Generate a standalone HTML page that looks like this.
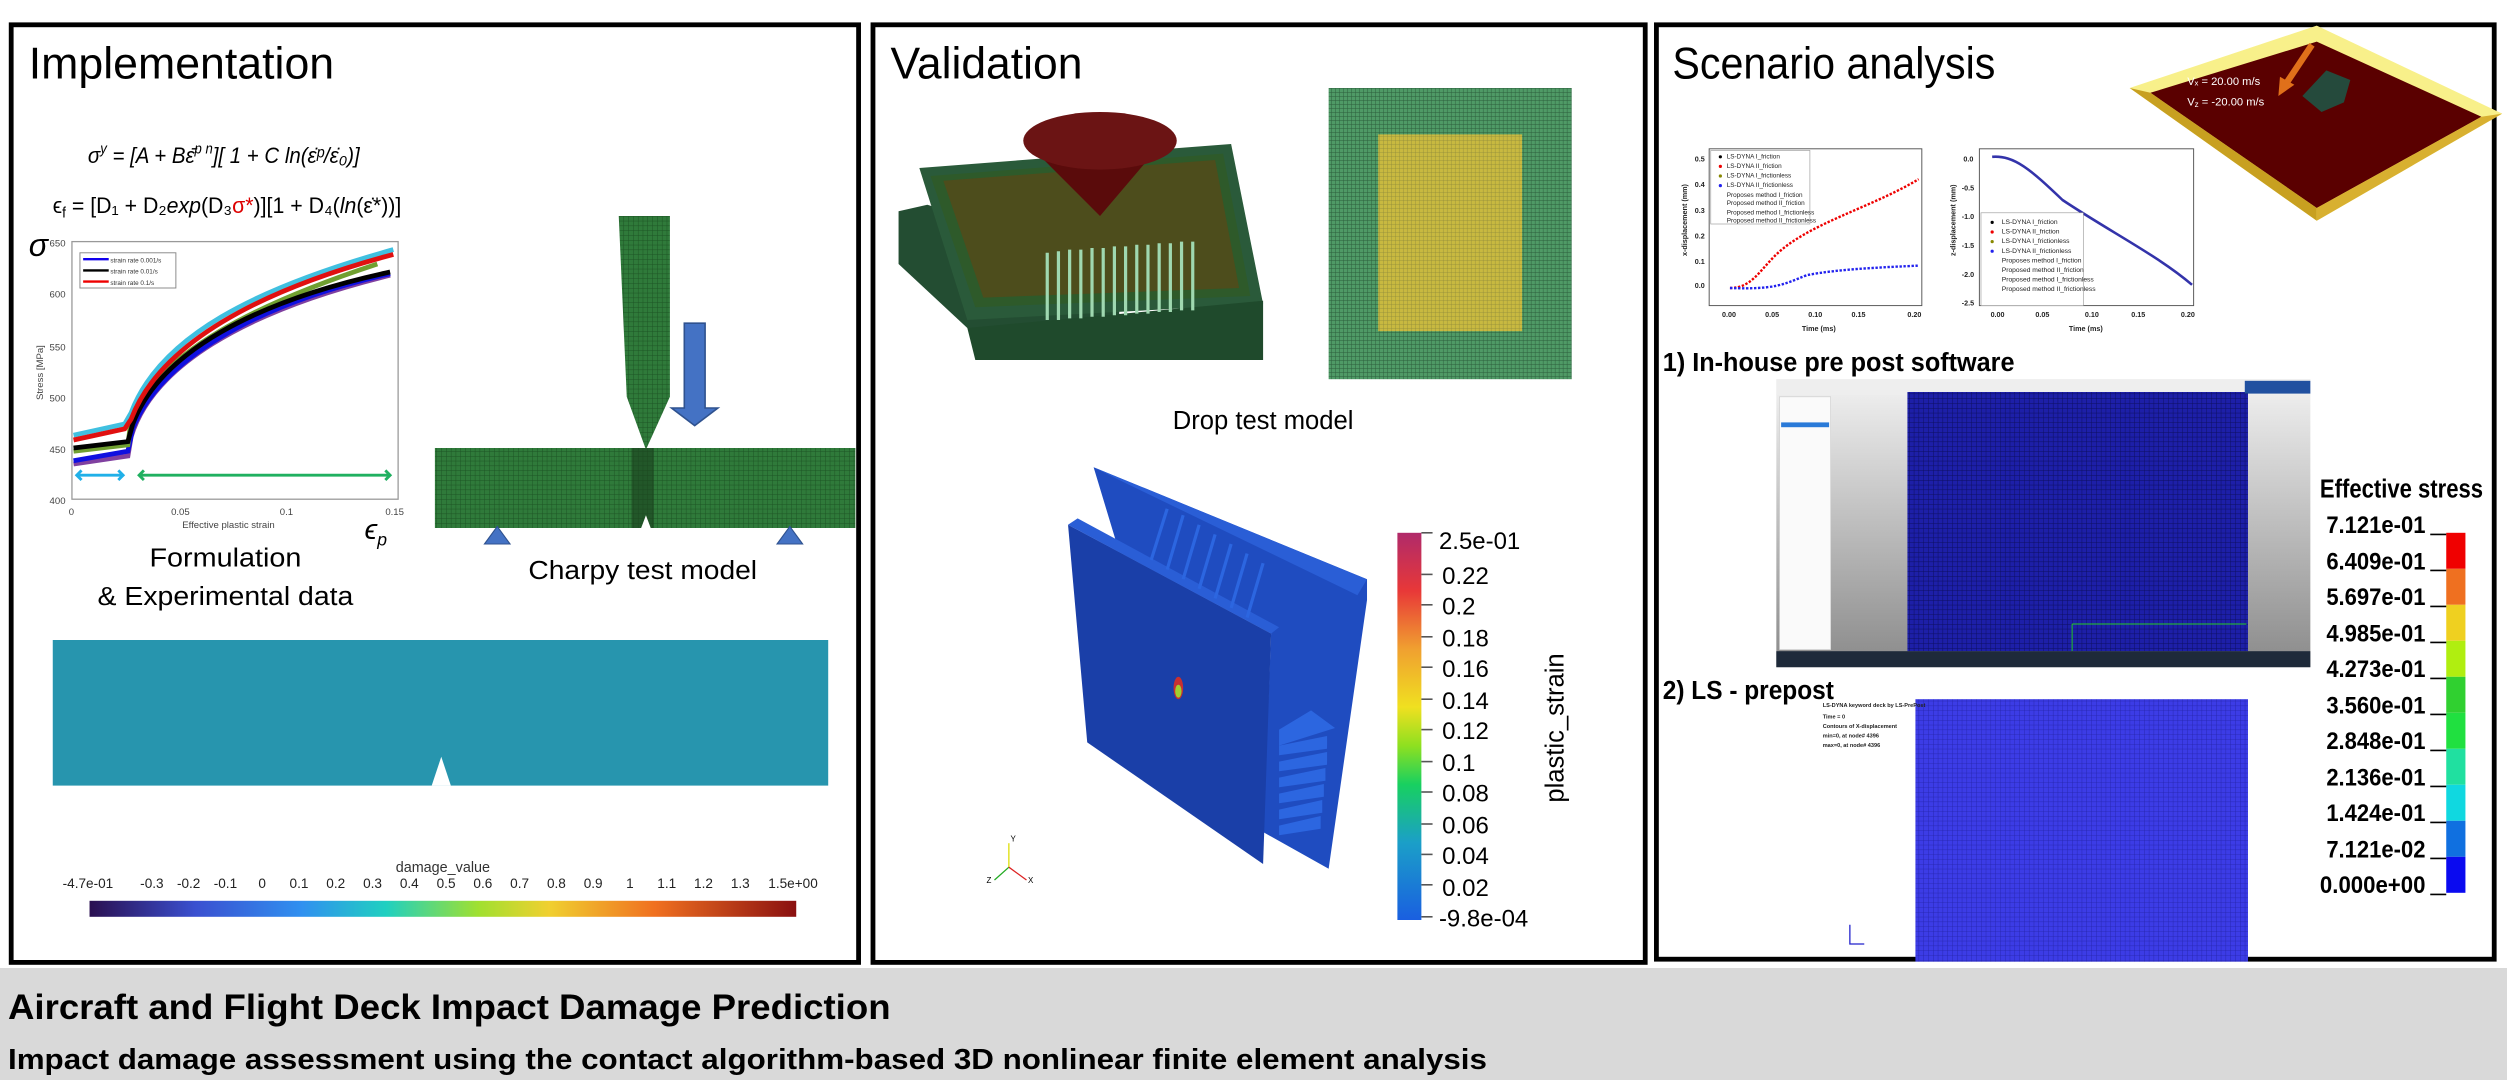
<!DOCTYPE html>
<html><head><meta charset="utf-8"><style>
html,body{margin:0;padding:0;background:#fff;width:2507px;height:1080px;overflow:hidden}
svg{display:block}
text{font-family:"Liberation Sans",sans-serif}
.nar{font-family:"Liberation Sans Narrow","Liberation Sans",sans-serif}
</style></head><body>
<svg width="2507" height="1080" viewBox="0 0 1568 675" preserveAspectRatio="none" xmlns="http://www.w3.org/2000/svg">
<defs>
<pattern id="gmesh" width="3" height="3" patternUnits="userSpaceOnUse"><rect width="3" height="3" fill="#2f7a3a"/><path d="M0 0H3M0 0V3" stroke="#1d5424" stroke-width="0.6"/></pattern>
<pattern id="gmesh2" width="2.5" height="2.5" patternUnits="userSpaceOnUse"><rect width="2.5" height="2.5" fill="#4f9a66"/><path d="M0 0H2.5M0 0V2.5" stroke="#2c5e3c" stroke-width="0.6"/></pattern>
<pattern id="ymesh" width="2.5" height="2.5" patternUnits="userSpaceOnUse"><rect width="2.5" height="2.5" fill="#c8b940"/><path d="M0 0H2.5M0 0V2.5" stroke="#8f8a3a" stroke-width="0.5"/></pattern>
<pattern id="bmesh" width="3" height="3" patternUnits="userSpaceOnUse"><rect width="3" height="3" fill="#1d1fa8"/><path d="M0 0H3M0 0V3" stroke="#0d0f60" stroke-width="0.6"/></pattern>
<pattern id="lmesh" width="3" height="3" patternUnits="userSpaceOnUse"><rect width="3" height="3" fill="#3c3ce6"/><path d="M0 0H3M0 0V3" stroke="#2424a8" stroke-width="0.5"/></pattern>
<linearGradient id="ps" x1="0" y1="1" x2="0" y2="0">
<stop offset="0" stop-color="#1a5fe0"/><stop offset="0.2" stop-color="#1b9fc8"/><stop offset="0.35" stop-color="#18d060"/><stop offset="0.45" stop-color="#8ee020"/><stop offset="0.55" stop-color="#f0e020"/><stop offset="0.7" stop-color="#f0a030"/><stop offset="0.85" stop-color="#e83838"/><stop offset="1" stop-color="#b02a6a"/></linearGradient>
<linearGradient id="dv" x1="0" y1="0" x2="1" y2="0">
<stop offset="0" stop-color="#2a0f50"/><stop offset="0.15" stop-color="#3a50d0"/><stop offset="0.3" stop-color="#3090f0"/><stop offset="0.42" stop-color="#20d0c0"/><stop offset="0.55" stop-color="#a0e030"/><stop offset="0.65" stop-color="#f0d030"/><stop offset="0.8" stop-color="#f07020"/><stop offset="1" stop-color="#8a1010"/></linearGradient>
<linearGradient id="gry" x1="0" y1="0" x2="0" y2="1"><stop offset="0" stop-color="#f2f2f2"/><stop offset="1" stop-color="#8a8a8a"/></linearGradient>
</defs>

<rect x="7" y="15.5" width="530" height="586" fill="none" stroke="#000" stroke-width="3"/>
<rect x="546" y="15.5" width="483" height="586" fill="none" stroke="#000" stroke-width="3"/>
<rect x="1036" y="15.5" width="524" height="584" fill="none" stroke="#000" stroke-width="3"/>

<rect x="0" y="605" width="1568" height="70" fill="#d9d9d9"/>
<text x="5" y="637" font-size="22" font-weight="bold" textLength="552" lengthAdjust="spacingAndGlyphs">Aircraft and Flight Deck Impact Damage Prediction</text>
<text x="5" y="668" font-size="18" font-weight="bold" textLength="925" lengthAdjust="spacingAndGlyphs">Impact damage assessment using the contact algorithm-based 3D nonlinear finite element analysis</text>

<!-- Panel 1 -->
<text x="18" y="49" font-size="28" textLength="191" lengthAdjust="spacingAndGlyphs">Implementation</text>
<text x="55" y="102" font-size="14" font-family="Liberation Serif" font-style="italic" textLength="170" lengthAdjust="spacingAndGlyphs">σ<tspan font-size="9" dy="-6">y</tspan><tspan dy="6"> = [A + Bε̄</tspan><tspan font-size="9" dy="-6">p n</tspan><tspan dy="6">][ 1 + C ln(ε̇ᵖ/ε̇₀)]</tspan></text>
<text x="33" y="133" font-size="14" font-family="Liberation Serif" textLength="218" lengthAdjust="spacingAndGlyphs">ϵ<tspan font-size="9" dy="3">f</tspan><tspan dy="-3"> = [D₁ + D₂</tspan><tspan font-style="italic">exp</tspan>(D₃<tspan fill="#d00">σ*</tspan>)][1 + D₄(<tspan font-style="italic">ln</tspan>(ε̇*))]</text>
<text x="18" y="160" font-size="20" font-family="Liberation Serif" font-style="italic">σ</text>
<rect x="45" y="151" width="204" height="161" fill="#fff" stroke="#999" stroke-width="0.8"/>
<g font-size="6" fill="#444">
<text x="31" y="154">650</text><text x="31" y="186">600</text><text x="31" y="219">550</text><text x="31" y="251">500</text><text x="31" y="283">450</text><text x="31" y="315">400</text>
<text x="43" y="322">0</text><text x="107" y="322">0.05</text><text x="175" y="322">0.1</text><text x="241" y="322">0.15</text>
<text x="114" y="330">Effective plastic strain</text>
<text transform="translate(27,250) rotate(-90)">Stress [MPa]</text></g>
<text x="228" y="337" font-size="18" font-family="Liberation Serif" font-style="italic">ϵ<tspan font-size="11" dy="4">p</tspan></text>
<g fill="none" stroke-width="3">
<path d="M46 290 L80 285 L82 273 C95 230 150 195 244 172" stroke="#8040a0"/>
<path d="M46 288 L80 282 L83 268 C100 225 160 190 244 171" stroke="#1010e0"/>
<path d="M46 282 L80 278 L82 262 C100 220 160 190 236 165" stroke="#70a030"/>
<path d="M46 280 L80 276 L83 265 C100 220 160 188 244 170" stroke="#000"/>
<path d="M46 272 L78 265 L82 258 C100 210 160 180 246 156" stroke="#40c0e0"/>
<path d="M46 275 L78 268 L82 262 C100 215 160 182 246 159" stroke="#e01010"/>
</g>
<rect x="50" y="158" width="60" height="22" fill="#fff" stroke="#888" stroke-width="0.6"/>
<g font-size="4" fill="#333"><line x1="52" y1="162" x2="68" y2="162" stroke="#10e" stroke-width="1.5"/><text x="69" y="164">strain rate 0.001/s</text>
<line x1="52" y1="169" x2="68" y2="169" stroke="#000" stroke-width="1.5"/><text x="69" y="171">strain rate 0.01/s</text>
<line x1="52" y1="176" x2="68" y2="176" stroke="#e00" stroke-width="1.5"/><text x="69" y="178">strain rate 0.1/s</text></g>
<g stroke-width="1.8" fill="none">
<path d="M48 297 H77 M51 294 L48 297 L51 300 M74 294 L77 297 L74 300" stroke="#20b0e8"/>
<path d="M87 297 H244 M90 294 L87 297 L90 300 M241 294 L244 297 L241 300" stroke="#20b060"/></g>
<polygon points="387,135 419,135 419,248 404,281 392,248" fill="url(#gmesh)"/>
<path d="M428 202 H441 V255 H449 L434.5 266 L420 255 H428 Z" fill="#4472c4" stroke="#2f528f" stroke-width="1"/>
<rect x="272" y="280" width="263" height="50" fill="url(#gmesh)"/>
<rect x="395" y="280" width="14" height="50" fill="#1b3f1e" opacity="0.6"/>
<polygon points="401,330 404,322 407,330" fill="#fff"/>
<polygon points="303,340 311,329 319,340" fill="#4472c4" stroke="#2f528f" stroke-width="0.7"/>
<polygon points="486,340 494,329 502,340" fill="#4472c4" stroke="#2f528f" stroke-width="0.7"/>
<text x="141" y="354" font-size="16" text-anchor="middle" textLength="95" lengthAdjust="spacingAndGlyphs">Formulation</text>
<text x="141" y="378" font-size="16" text-anchor="middle" textLength="160" lengthAdjust="spacingAndGlyphs">&amp; Experimental data</text>
<text x="402" y="362" font-size="16" text-anchor="middle" textLength="143" lengthAdjust="spacingAndGlyphs">Charpy test model</text>
<rect x="33" y="400" width="485" height="91" fill="#2795ae"/>
<polygon points="270,491 276,473 282,491" fill="#fff"/>
<text x="277" y="545" font-size="9" text-anchor="middle" fill="#333">damage_value</text>
<g font-size="8.5" fill="#222" text-anchor="middle">
<text x="55" y="555">-4.7e-01</text><text x="95" y="555">-0.3</text><text x="118" y="555">-0.2</text><text x="141" y="555">-0.1</text><text x="164" y="555">0</text><text x="187" y="555">0.1</text><text x="210" y="555">0.2</text><text x="233" y="555">0.3</text><text x="256" y="555">0.4</text><text x="279" y="555">0.5</text><text x="302" y="555">0.6</text><text x="325" y="555">0.7</text><text x="348" y="555">0.8</text><text x="371" y="555">0.9</text><text x="394" y="555">1</text><text x="417" y="555">1.1</text><text x="440" y="555">1.2</text><text x="463" y="555">1.3</text><text x="496" y="555">1.5e+00</text></g>
<rect x="56" y="563" width="442" height="10" fill="url(#dv)"/>

<!-- Panel 2 -->
<text x="557" y="49" font-size="28" textLength="120" lengthAdjust="spacingAndGlyphs">Validation</text>
<polygon points="562,132 580,128 700,165 700,225 605,205 562,165" fill="#234d32"/>
<polygon points="575,105 770,90 790,190 605,200" fill="#2a5a3a"/>
<polygon points="582,110 765,96 782,185 610,192" fill="#2e5a2a"/>
<polygon points="590,113 760,100 775,180 615,186" fill="#4d4d1c"/>
<polygon points="605,205 790,188 790,225 610,225" fill="#1f4a2c"/>
<g stroke="#9fd8b0" stroke-width="2">
<line x1="655" y1="158" x2="655" y2="200"/><line x1="662" y1="157" x2="662" y2="200"/><line x1="669" y1="156" x2="669" y2="199"/><line x1="676" y1="156" x2="676" y2="199"/><line x1="683" y1="155" x2="683" y2="198"/><line x1="690" y1="155" x2="690" y2="198"/><line x1="697" y1="154" x2="697" y2="197"/><line x1="704" y1="154" x2="704" y2="197"/><line x1="711" y1="153" x2="711" y2="196"/><line x1="718" y1="153" x2="718" y2="196"/><line x1="725" y1="152" x2="725" y2="195"/><line x1="732" y1="152" x2="732" y2="195"/><line x1="739" y1="151" x2="739" y2="194"/><line x1="746" y1="151" x2="746" y2="194"/></g>
<polygon points="641,88 728,88 688,135" fill="#5a0b0b"/>
<ellipse cx="688" cy="88" rx="48" ry="18" fill="#6b1414"/>
<rect x="831" y="55" width="152" height="182" fill="url(#gmesh2)"/>
<rect x="862" y="84" width="90" height="123" fill="url(#ymesh)"/>
<text x="790" y="268" font-size="16" text-anchor="middle" textLength="113" lengthAdjust="spacingAndGlyphs">Drop test model</text>
<polygon points="684,292 855,362 855,375 831,543 790,520 795,396 700,345" fill="#1f4cc0"/>
<polygon points="684,292 855,362 849,372 700,300" fill="#2a5ed6"/>
<polygon points="668,328 700,345 795,396 790,540 680,464" fill="#1a3fa8"/>
<polygon points="668,328 674,324 800,392 795,396" fill="#2a5ed6"/>
<g fill="#2c66e0">
<polygon points="800,456 820,444 835,455 800,466"/><polygon points="800,466 830,460 830,468 800,472"/>
<polygon points="800,476 830,470 830,478 800,482"/><polygon points="800,486 829,480 829,488 800,492"/><polygon points="800,496 828,490 828,498 800,502"/><polygon points="800,506 827,500 827,508 800,512"/><polygon points="800,516 826,510 826,518 800,522"/></g>
<g stroke="#2c66e0" stroke-width="2" fill="none"><path d="M720 350 L730 318"/><path d="M730 356 L740 322"/><path d="M740 362 L750 328"/><path d="M750 368 L760 334"/><path d="M760 374 L770 340"/><path d="M770 380 L780 346"/><path d="M780 386 L790 352"/></g>
<ellipse cx="737" cy="430" rx="3" ry="7" fill="#c83030"/><ellipse cx="737" cy="432" rx="2" ry="4" fill="#a0d030"/>
<g stroke-width="0.8"><line x1="631" y1="542" x2="631" y2="527" stroke="#dd0"/><line x1="631" y1="542" x2="622" y2="550" stroke="#2a2"/><line x1="631" y1="542" x2="642" y2="550" stroke="#d22"/></g>
<g font-size="5"><text x="632" y="526">Y</text><text x="617" y="552">Z</text><text x="643" y="552">X</text></g>
<rect x="874" y="333" width="15" height="242" fill="url(#ps)"/>
<g font-size="15" fill="#000" class="nar">
<text x="900" y="343">2.5e-01</text><text x="902" y="365">0.22</text><text x="902" y="384">0.2</text><text x="902" y="404">0.18</text><text x="902" y="423">0.16</text><text x="902" y="443">0.14</text><text x="902" y="462">0.12</text><text x="902" y="482">0.1</text><text x="902" y="501">0.08</text><text x="902" y="521">0.06</text><text x="902" y="540">0.04</text><text x="902" y="560">0.02</text><text x="900" y="579">-9.8e-04</text></g>
<g stroke="#555" stroke-width="1"><line x1="889" y1="359" x2="896" y2="359"/><line x1="889" y1="378" x2="896" y2="378"/><line x1="889" y1="398" x2="896" y2="398"/><line x1="889" y1="417" x2="896" y2="417"/><line x1="889" y1="437" x2="896" y2="437"/><line x1="889" y1="456" x2="896" y2="456"/><line x1="889" y1="476" x2="896" y2="476"/><line x1="889" y1="495" x2="896" y2="495"/><line x1="889" y1="515" x2="896" y2="515"/><line x1="889" y1="534" x2="896" y2="534"/><line x1="889" y1="553" x2="896" y2="553"/><line x1="889" y1="333" x2="896" y2="333"/><line x1="889" y1="573" x2="896" y2="573"/></g>
<text transform="translate(978,455) rotate(-90)" font-size="16" text-anchor="middle">plastic_strain</text>

<!-- Panel 3 -->
<text x="1046" y="49" font-size="28" textLength="202" lengthAdjust="spacingAndGlyphs">Scenario analysis</text>
<polygon points="1449,16 1565,71 1449,138 1332,55" fill="#f8f08a"/>
<polygon points="1449,26 1552,73 1449,130 1345,58" fill="#5a0000"/>
<polygon points="1332,55 1345,58 1449,130 1449,138" fill="#c8a020"/>
<polygon points="1449,138 1565,71 1552,73 1449,130" fill="#d8b030"/>
<path d="M1446 28 L1430 52" stroke="#e0701a" stroke-width="4"/><polygon points="1425,60 1426,48 1435,53" fill="#e0701a"/>
<polygon points="1440,60 1455,44 1470,50 1466,64 1452,70" fill="#254a3c"/>
<text x="1368" y="53" font-size="7" fill="#fff">Vₓ = 20.00 m/s</text>
<text x="1368" y="66" font-size="7" fill="#fff">V<tspan font-size="5" dy="1">z</tspan><tspan dy="-1"> = -20.00 m/s</tspan></text>
<!-- chart 1 -->
<rect x="1069" y="93" width="133" height="98" fill="#fff" stroke="#555" stroke-width="0.6"/>
<g font-size="4.5" font-weight="bold" fill="#222">
<text x="1060" y="101">0.5</text><text x="1060" y="117">0.4</text><text x="1060" y="133">0.3</text><text x="1060" y="149">0.2</text><text x="1060" y="165">0.1</text><text x="1060" y="180">0.0</text>
<text x="1077" y="198">0.00</text><text x="1104" y="198">0.05</text><text x="1131" y="198">0.10</text><text x="1158" y="198">0.15</text><text x="1193" y="198">0.20</text>
<text x="1127" y="207">Time (ms)</text>
<text transform="translate(1055,160) rotate(-90)">x-displacement (mm)</text></g>
<path d="M1082 180 C1095 180 1100 170 1110 160 C1130 140 1170 130 1200 112" fill="none" stroke="#e00" stroke-width="1.5" stroke-dasharray="1.5 1"/>
<path d="M1082 180 C1110 181 1115 178 1130 172 C1150 168 1180 167 1200 166" fill="none" stroke="#22e" stroke-width="1.5" stroke-dasharray="1.5 1"/>
<rect x="1070" y="94" width="62" height="46" fill="#fff" stroke="#999" stroke-width="0.4"/>
<g font-size="4" fill="#222">
<text x="1080" y="99">LS-DYNA I_friction</text><text x="1080" y="105">LS-DYNA II_friction</text><text x="1080" y="111">LS-DYNA I_frictionless</text><text x="1080" y="117">LS-DYNA II_frictionless</text><text x="1080" y="123">Proposes method I_friction</text><text x="1080" y="128">Proposed method II_friction</text><text x="1080" y="134">Proposed method I_frictionless</text><text x="1080" y="139">Proposed method II_frictionless</text></g>
<g><circle cx="1076" cy="98" r="1" fill="#000"/><circle cx="1076" cy="104" r="1" fill="#e00"/><circle cx="1076" cy="110" r="1" fill="#880"/><circle cx="1076" cy="116" r="1" fill="#22e"/></g>
<!-- chart 2 -->
<rect x="1238" y="93" width="134" height="98" fill="#fff" stroke="#555" stroke-width="0.6"/>
<g font-size="4.5" font-weight="bold" fill="#222">
<text x="1228" y="101">0.0</text><text x="1227" y="119">-0.5</text><text x="1227" y="137">-1.0</text><text x="1227" y="155">-1.5</text><text x="1227" y="173">-2.0</text><text x="1227" y="191">-2.5</text>
<text x="1245" y="198">0.00</text><text x="1273" y="198">0.05</text><text x="1304" y="198">0.10</text><text x="1333" y="198">0.15</text><text x="1364" y="198">0.20</text>
<text x="1294" y="207">Time (ms)</text>
<text transform="translate(1223,160) rotate(-90)">z-displacement (mm)</text></g>
<path d="M1246 98 C1260 97 1270 106 1290 125 C1320 145 1350 160 1371 178" fill="none" stroke="#33a" stroke-width="1.6"/>
<rect x="1239" y="133" width="64" height="58" fill="#fff" stroke="#999" stroke-width="0.4"/>
<g font-size="4.2" fill="#222">
<text x="1252" y="140">LS-DYNA I_friction</text><text x="1252" y="146">LS-DYNA II_friction</text><text x="1252" y="152">LS-DYNA I_frictionless</text><text x="1252" y="158">LS-DYNA II_frictionless</text><text x="1252" y="164">Proposes method I_friction</text><text x="1252" y="170">Proposed method II_friction</text><text x="1252" y="176">Proposed method I_frictionless</text><text x="1252" y="182">Proposed method II_frictionless</text></g>
<g><circle cx="1246" cy="139" r="1" fill="#000"/><circle cx="1246" cy="145" r="1" fill="#e00"/><circle cx="1246" cy="151" r="1" fill="#880"/><circle cx="1246" cy="157" r="1" fill="#22e"/></g>
<text x="1040" y="232" font-size="16" font-weight="bold" textLength="220" lengthAdjust="spacingAndGlyphs">1) In-house pre post software</text>
<rect x="1111" y="237" width="334" height="180" fill="url(#gry)"/>
<rect x="1111" y="237" width="334" height="10" fill="#eee"/>
<rect x="1113" y="248" width="32" height="158" fill="#fafafa" stroke="#ccc" stroke-width="0.4"/>
<rect x="1114" y="264" width="30" height="3" fill="#2a7ad8"/>
<rect x="1193" y="245" width="213" height="162" fill="url(#bmesh)"/>
<rect x="1404" y="238" width="41" height="8" fill="#2050a0"/>
<path d="M1296 390 H1405 M1296 390 V407" stroke="#2c2" stroke-width="0.6"/>
<rect x="1111" y="407" width="334" height="10" fill="#1e2a3a"/>
<text x="1040" y="437" font-size="16" font-weight="bold" textLength="107" lengthAdjust="spacingAndGlyphs">2) LS - prepost</text>
<rect x="1198" y="437" width="208" height="164" fill="url(#lmesh)"/>
<g font-size="3.5" font-weight="bold" fill="#222"><text x="1140" y="442">LS-DYNA keyword deck by LS-PrePost</text><text x="1140" y="449">Time = 0</text><text x="1140" y="455">Contours of X-displacement</text><text x="1140" y="461">min=0, at node# 4396</text><text x="1140" y="467">max=0, at node# 4396</text></g>
<path d="M1157 578 V590 H1166" stroke="#22c" stroke-width="0.8" fill="none"/>
<text x="1451" y="311" font-size="16" font-weight="bold" textLength="102" lengthAdjust="spacingAndGlyphs">Effective stress</text>
<g>
<rect x="1530" y="333" width="12" height="22.5" fill="#f00000"/>
<rect x="1530" y="355.5" width="12" height="22.5" fill="#ef7020"/>
<rect x="1530" y="378" width="12" height="22.5" fill="#efd020"/>
<rect x="1530" y="400.5" width="12" height="22.5" fill="#b0ee10"/>
<rect x="1530" y="423" width="12" height="22.5" fill="#30d030"/>
<rect x="1530" y="445.5" width="12" height="22.5" fill="#20e040"/>
<rect x="1530" y="468" width="12" height="22.5" fill="#20e0a0"/>
<rect x="1530" y="490.5" width="12" height="22.5" fill="#10d8e0"/>
<rect x="1530" y="513" width="12" height="22.5" fill="#1070e0"/>
<rect x="1530" y="535.5" width="12" height="22.5" fill="#0a0af0"/></g>
<g font-size="15" font-weight="bold" text-anchor="end">
<text x="1517" y="333" textLength="62" lengthAdjust="spacingAndGlyphs">7.121e-01</text><text x="1517" y="356" textLength="62" lengthAdjust="spacingAndGlyphs">6.409e-01</text><text x="1517" y="378" textLength="62" lengthAdjust="spacingAndGlyphs">5.697e-01</text><text x="1517" y="401" textLength="62" lengthAdjust="spacingAndGlyphs">4.985e-01</text><text x="1517" y="423" textLength="62" lengthAdjust="spacingAndGlyphs">4.273e-01</text><text x="1517" y="446" textLength="62" lengthAdjust="spacingAndGlyphs">3.560e-01</text><text x="1517" y="468" textLength="62" lengthAdjust="spacingAndGlyphs">2.848e-01</text><text x="1517" y="491" textLength="62" lengthAdjust="spacingAndGlyphs">2.136e-01</text><text x="1517" y="513" textLength="62" lengthAdjust="spacingAndGlyphs">1.424e-01</text><text x="1517" y="536" textLength="62" lengthAdjust="spacingAndGlyphs">7.121e-02</text><text x="1517" y="558" textLength="66" lengthAdjust="spacingAndGlyphs">0.000e+00</text></g>
<g stroke="#000" stroke-width="1"><path d="M1520 334H1530M1520 356.5H1530M1520 379H1530M1520 401.5H1530M1520 424H1530M1520 446.5H1530M1520 469H1530M1520 491.5H1530M1520 514H1530M1520 536.5H1530M1520 559H1530"/></g>
</svg>
</body></html>
